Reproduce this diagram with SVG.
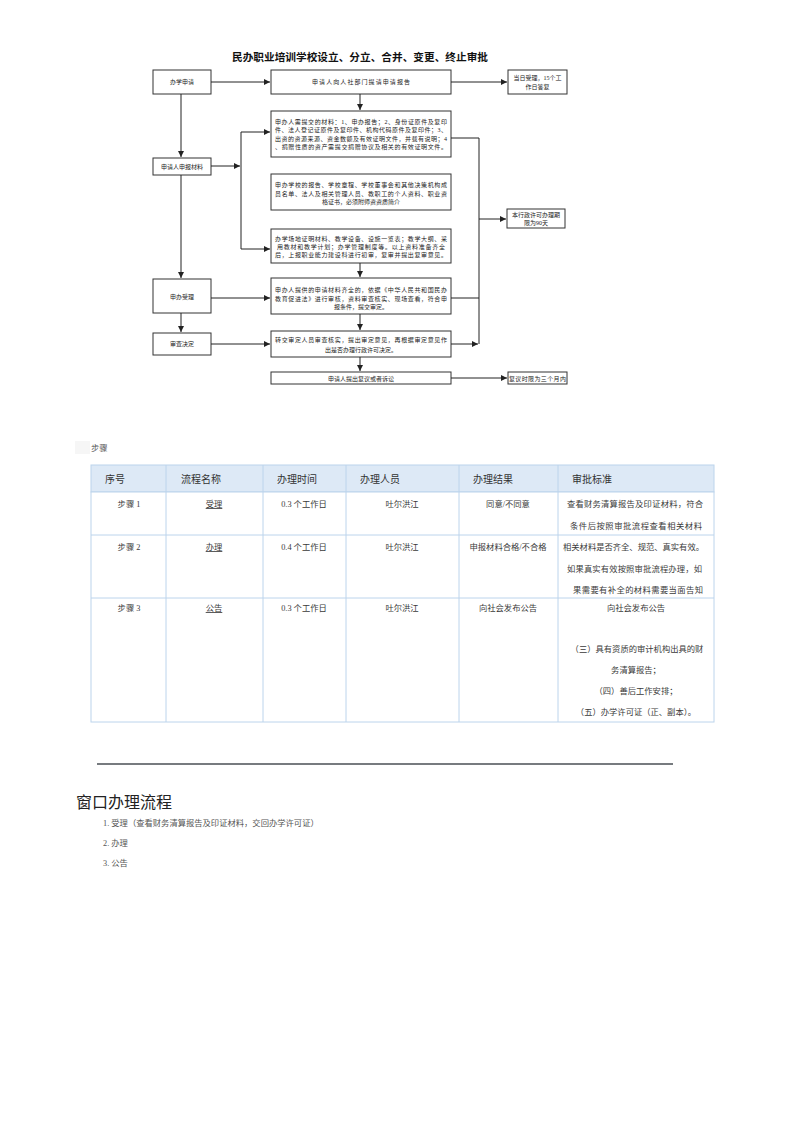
<svg xmlns="http://www.w3.org/2000/svg" width="793" height="1122" viewBox="0 0 793 1122">
<style>
.bx{fill:#fff;stroke:#333;stroke-width:1}
.ln{fill:none;stroke:#222;stroke-width:1}
.t{font-family:"Liberation Serif","Noto Sans CJK SC",serif;font-size:6px;fill:#222}
.title{font-family:"Liberation Serif","Noto Sans CJK SC",serif;font-size:10.5px;font-weight:bold;fill:#111}
.th{font-family:"Liberation Sans","Noto Sans CJK SC",sans-serif;font-size:10px;fill:#333}
.td{font-family:"Liberation Serif","Noto Sans CJK SC",serif;font-size:8.3px;fill:#3a3a3a}
.tb{fill:#fff;stroke:#bcd4ec;stroke-width:1}
.hd{fill:#dde9f6;stroke:#bcd4ec;stroke-width:1}
.li{font-family:"Liberation Serif","Noto Sans CJK SC",serif;font-size:8.3px;fill:#555}
</style>
<defs>
<marker id="ah" markerWidth="6" markerHeight="6" refX="6" refY="3" orient="auto" markerUnits="userSpaceOnUse">
<path d="M0,0 L6,3 L0,6 z" fill="#222"/>
</marker>
</defs>
<rect width="793" height="1122" fill="#fff"/>
<text class="title" x="360" y="61" text-anchor="middle" textLength="256" lengthAdjust="spacingAndGlyphs">民办职业培训学校设立、分立、合并、变更、终止审批</text>

<g id="n-banxue"><rect class="bx" x="153" y="70" width="58" height="24"/><text class="t" x="182" y="84" text-anchor="middle">办学申请</text></g>
<g id="n-tiqing"><rect class="bx" x="271" y="70" width="180" height="24"/><text class="t" x="361" y="84" text-anchor="middle" textLength="98">申请人向人社部门提请申请报告</text></g>
<g id="n-dangri"><rect class="bx" x="508" y="70" width="59" height="24"/><text class="t" x="537.5" y="80" text-anchor="middle">当日受理，15个工</text><text class="t" x="537.5" y="89" text-anchor="middle">作日答复</text></g>
<g id="n-shenbao"><rect class="bx" x="153" y="158" width="58" height="17"/><text class="t" x="182" y="168.5" text-anchor="middle">申请人申报材料</text></g>
<g id="n-cailiao1"><rect class="bx" x="271" y="111" width="180" height="46"/>
<text class="t" x="275" y="124" textLength="172" lengthAdjust="spacing">申办人需提交的材料：1、申办报告；2、身份证原件及复印</text>
<text class="t" x="275" y="132.3" textLength="172" lengthAdjust="spacing">件、法人登记证原件及复印件、机构代码原件及复印件；3、</text>
<text class="t" x="275" y="140.6" textLength="172" lengthAdjust="spacing">出资的资源来源、资金数额及有效证明文件，并载有说明；4</text>
<text class="t" x="275" y="149" textLength="172" lengthAdjust="spacing">、捐赠性质的资产需提交捐赠协议及相关的有效证明文件。</text></g>
<g id="n-cailiao2"><rect class="bx" x="271" y="174" width="180" height="36"/>
<text class="t" x="275" y="187.3" textLength="172" lengthAdjust="spacing">申办学校的报告、学校章程、学校董事会和其他决策机构成</text>
<text class="t" x="275" y="195.8" textLength="172" lengthAdjust="spacing">员名单、法人及相关管理人员、教职工的个人资料、职业资</text>
<text class="t" x="361" y="204.3" text-anchor="middle">格证书，必须附师资资质简介</text></g>
<g id="n-cailiao3"><rect class="bx" x="271" y="229" width="180" height="34"/>
<text class="t" x="275" y="240.5" textLength="172" lengthAdjust="spacing">办学场地证明材料、教学设备、设施一览表；教学大纲、采</text>
<text class="t" x="277" y="248.8" textLength="168" lengthAdjust="spacing">用教材和教学计划；办学管理制度等。以上资料准备齐全</text>
<text class="t" x="275" y="257.3" textLength="172" lengthAdjust="spacing">后，上报职业能力建设科进行初审，复审并提出复审意见。</text></g>
<g id="n-shouli"><rect class="bx" x="153" y="279" width="58" height="34"/><text class="t" x="182" y="299" text-anchor="middle">申办受理</text></g>
<g id="n-shenhe"><rect class="bx" x="271" y="278" width="180" height="36"/>
<text class="t" x="275" y="292.3" textLength="172" lengthAdjust="spacing">申办人提供的申请材料齐全的，依据《中华人民共和国民办</text>
<text class="t" x="275" y="300.5" textLength="172" lengthAdjust="spacing">教育促进法》进行审核，资料审查核实、现场查看，符合申</text>
<text class="t" x="361" y="309" text-anchor="middle">报条件，提交审定。</text></g>
<g id="n-qixian"><rect class="bx" x="507" y="209" width="58" height="19"/><text class="t" x="536" y="217" text-anchor="middle">本行政许可办理期</text><text class="t" x="536" y="225" text-anchor="middle">限为90天</text></g>
<g id="n-jueding"><rect class="bx" x="153" y="333" width="58" height="22"/><text class="t" x="182" y="346" text-anchor="middle">审查决定</text></g>
<g id="n-shending"><rect class="bx" x="271" y="331" width="180" height="26"/>
<text class="t" x="275" y="342.3" textLength="172" lengthAdjust="spacing">转交审定人员审查核实，提出审定意见，再根据审定意见作</text>
<text class="t" x="361" y="351.6" text-anchor="middle">出是否办理行政许可决定。</text></g>
<g id="n-fuyi"><rect class="bx" x="271" y="372" width="180" height="12"/><text class="t" x="361" y="380.5" text-anchor="middle">申请人提出复议或者诉讼</text></g>
<g id="n-shixian"><rect class="bx" x="508" y="372" width="59" height="12"/><text class="t" x="537.5" y="380.5" text-anchor="middle" textLength="57">复议时限为三个月内</text></g>

<g id="connectors">
<path class="ln" d="M211,82 H270" marker-end="url(#ah)"/>
<path class="ln" d="M451,82 H507" marker-end="url(#ah)"/>
<path class="ln" d="M181,94 V157" marker-end="url(#ah)"/>
<path class="ln" d="M360,94 V110" marker-end="url(#ah)"/>
<path class="ln" d="M211,166 H240" marker-end="url(#ah)"/>
<path class="ln" d="M241,132 V249"/>
<path class="ln" d="M241,132 H270" marker-end="url(#ah)"/>
<path class="ln" d="M241,249 H270" marker-end="url(#ah)"/>
<path class="ln" d="M181,175 V278" marker-end="url(#ah)"/>
<path class="ln" d="M360,263 V277" marker-end="url(#ah)"/>
<path class="ln" d="M211,298 H270" marker-end="url(#ah)"/>
<path class="ln" d="M181,313 V332" marker-end="url(#ah)"/>
<path class="ln" d="M360,314 V330" marker-end="url(#ah)"/>
<path class="ln" d="M211,344 H270" marker-end="url(#ah)"/>
<path class="ln" d="M451,138 H479 V344"/>
<path class="ln" d="M451,298 H479"/>
<path class="ln" d="M451,344 H478" marker-end="url(#ah)"/>
<path class="ln" d="M479,219 H506" marker-end="url(#ah)"/>
<path class="ln" d="M360,357 V371" marker-end="url(#ah)"/>
<path class="ln" d="M451,378 H507" marker-end="url(#ah)"/>
</g>

<g id="steps-label"><rect x="75" y="441" width="15" height="13" fill="#f6f6f6"/><text class="li" x="91" y="451">步骤</text></g>

<g id="table">
<rect class="hd" x="91" y="465" width="623" height="27"/>
<rect class="tb" x="91" y="492" width="623" height="230"/>
<path d="M91,535 H714 M91,598 H714 M166,465 V722 M263,465 V722 M346,465 V722 M459,465 V722 M558,465 V722" stroke="#bcd4ec" stroke-width="1" fill="none"/>
<text class="th" x="105" y="483">序号</text>
<text class="th" x="181" y="483">流程名称</text>
<text class="th" x="277" y="483">办理时间</text>
<text class="th" x="360" y="483">办理人员</text>
<text class="th" x="473" y="483">办理结果</text>
<text class="th" x="572" y="483">审批标准</text>

<text class="td" x="129" y="507" text-anchor="middle">步骤 1</text>
<text class="td" x="214" y="507" text-anchor="middle" text-decoration="underline">受理</text>
<text class="td" x="304" y="507" text-anchor="middle">0.3 个工作日</text>
<text class="td" x="402" y="507" text-anchor="middle">吐尔洪江</text>
<text class="td" x="508" y="507" text-anchor="middle">同意/不同意</text>
<text class="td" x="567" y="507" textLength="136" lengthAdjust="spacing">查看财务清算报告及印证材料，符合</text>
<text class="td" x="570" y="529" textLength="132" lengthAdjust="spacing">条件后按照审批流程查看相关材料</text>

<text class="td" x="129" y="550" text-anchor="middle">步骤 2</text>
<text class="td" x="214" y="550" text-anchor="middle" text-decoration="underline">办理</text>
<text class="td" x="304" y="550" text-anchor="middle">0.4 个工作日</text>
<text class="td" x="402" y="550" text-anchor="middle">吐尔洪江</text>
<text class="td" x="508" y="550" text-anchor="middle">申报材料合格/不合格</text>
<text class="td" x="563" y="550" textLength="141" lengthAdjust="spacing">相关材料是否齐全、规范、真实有效。</text>
<text class="td" x="567" y="572" textLength="135" lengthAdjust="spacing">如果真实有效按照审批流程办理，如</text>
<text class="td" x="573" y="593" textLength="130" lengthAdjust="spacing">果需要有补全的材料需要当面告知</text>

<text class="td" x="129" y="611" text-anchor="middle">步骤 3</text>
<text class="td" x="214" y="611" text-anchor="middle" text-decoration="underline">公告</text>
<text class="td" x="304" y="611" text-anchor="middle">0.3 个工作日</text>
<text class="td" x="402" y="611" text-anchor="middle">吐尔洪江</text>
<text class="td" x="508" y="611" text-anchor="middle">向社会发布公告</text>
<text class="td" x="636" y="611" text-anchor="middle">向社会发布公告</text>
<text class="td" x="637" y="652" text-anchor="middle">（三）具有资质的审计机构出具的财</text>
<text class="td" x="636" y="673" text-anchor="middle">务清算报告；</text>
<text class="td" x="636" y="694" text-anchor="middle">（四）善后工作安排；</text>
<text class="td" x="636" y="715" text-anchor="middle">（五）办学许可证（正、副本）。</text>
</g>

<line x1="97" y1="764" x2="673" y2="764" stroke="#4a4f55" stroke-width="1.5"/>

<g id="window">
<text x="76" y="808" font-family="'Noto Sans CJK SC',sans-serif" font-size="16" fill="#222">窗口办理流程</text>
<text class="li" x="103" y="826">1. 受理（查看财务清算报告及印证材料，交回办学许可证）</text>
<text class="li" x="103" y="846">2. 办理</text>
<text class="li" x="103" y="866">3. 公告</text>
</g>
</svg>
